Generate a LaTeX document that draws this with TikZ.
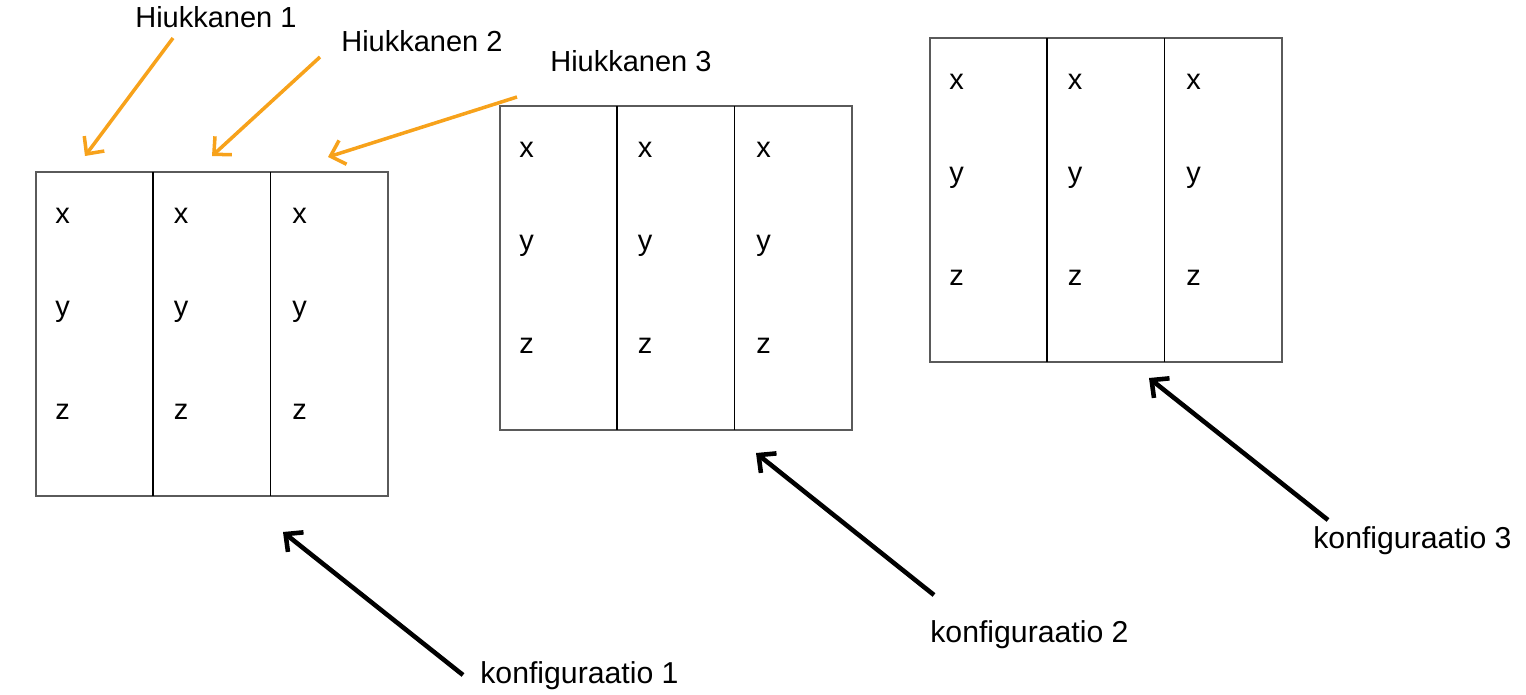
\documentclass[tikz,border=0pt]{standalone}
\usepackage{fontspec}
\setmainfont{Liberation Sans}
\usepackage{xcolor}
\definecolor{hiukkas}{HTML}{F7A21B}
\definecolor{reuna}{HTML}{5A5A5A}
\usetikzlibrary{arrows.meta,positioning}
\tikzset{>={Straight Barb[length=2.6mm,width=5mm]}}
\tikzset{%
    lbl/.style={inner sep=0pt,anchor=base west,font=\fontsize{16.5}{20}\selectfont},
    klbl/.style={lbl,font=\fontsize{17.2}{20}\selectfont},
    kirjain/.style={inner sep=0pt,anchor=base,font=\fontsize{16.5}{20}\selectfont},
    hiuk/.style={->,draw=hiukkas,line width=2pt},
    konf/.style={->,line width=2.6pt},
    reunaviiva/.style={draw=reuna,line width=1.1pt}
}

\begin{document}
\begin{tikzpicture}[x=0.02cm,y=-0.02cm]
    \useasboundingbox (0,0) rectangle (1526,694);

    % taulukot: konfiguraatiot 1-3
    \foreach \n/\bx/\by in {1/36/172, 2/500/106, 3/930/38}{
        \draw[reunaviiva] (\bx,\by) rectangle ++(352,324);
        \draw[line width=0.8pt] (\bx+117,\by) -- ++(0,324);
        \draw[line width=0.8pt] (\bx+234.5,\by) -- ++(0,324);
        \foreach \c in {0,1,2}{
            \node[kirjain] (x\n\c) at (\bx+26.5+118.5*\c,\by+51) {x};
            \node[kirjain] (y\n\c) at (\bx+26.5+118.5*\c,\by+144) {y};
            \node[kirjain] (z\n\c) at (\bx+26.5+118.5*\c,\by+247) {z};
        }
    }

    \node[lbl] (h1) at (135,27) {Hiukkanen 1};
    \node[lbl] (h2) at (341,51) {Hiukkanen 2};
    \node[lbl] (h3) at (550,71) {Hiukkanen 3};
    \coordinate (h1a) at (173,38);  \coordinate (h1b) at (85,156);
    \coordinate (h2a) at (320,57);  \coordinate (h2b) at (212,156);
    \coordinate (h3a) at (517,97);  \coordinate (h3b) at (328,157);
    \draw[hiuk] (h1a) -- (h1b);
    \draw[hiuk] (h2a) -- (h2b);
    \draw[hiuk] (h3a) -- (h3b);

    \node[klbl] (k1) at (480,683) {konfiguraatio 1};
    \node[klbl] (k2) at (930,642) {konfiguraatio 2};
    \node[klbl] (k3) at (1313,548) {konfiguraatio 3};
    \coordinate (k1a) at (463,675);  \coordinate (k1b) at (283,532);
    \coordinate (k2a) at (934,595);  \coordinate (k2b) at (756,453);
    \coordinate (k3a) at (1328,520); \coordinate (k3b) at (1149,378);
    \draw[konf] (k1a) -- (k1b);
    \draw[konf] (k2a) -- (k2b);
    \draw[konf] (k3a) -- (k3b);
\end{tikzpicture}
\end{document}
